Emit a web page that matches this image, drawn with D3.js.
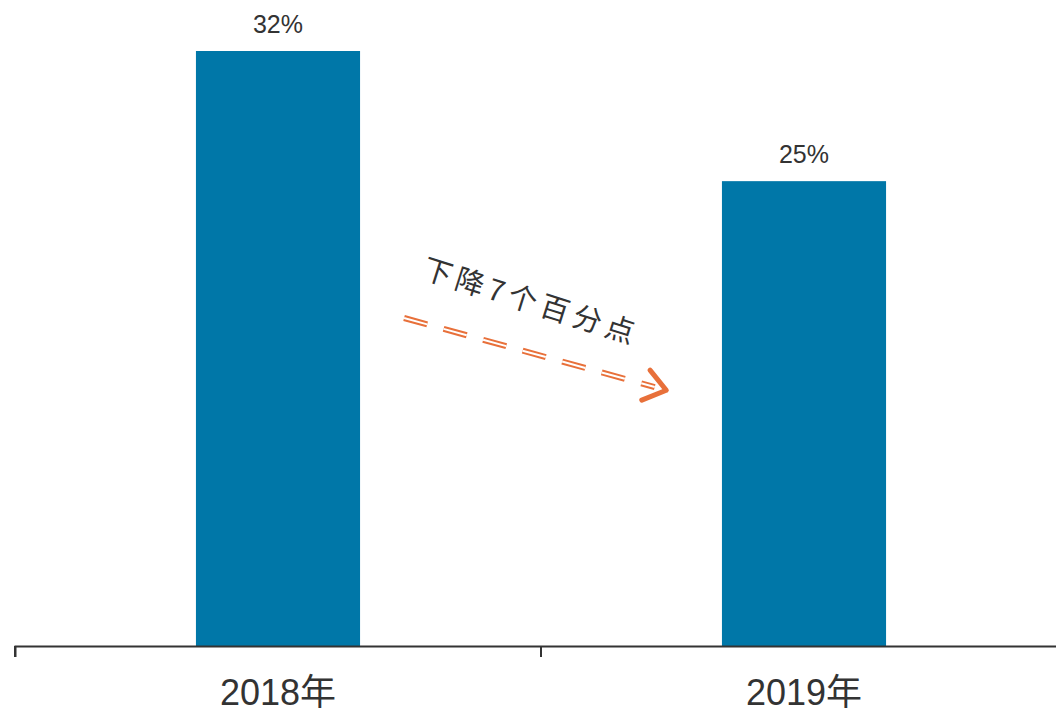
<!DOCTYPE html>
<html>
<head>
<meta charset="utf-8">
<script src="https://cdn.jsdelivr.net/npm/d3@7"></script>
<style>
  body { margin: 0; background: #fff; }
  svg { display: block; }
</style>
</head>
<body>
<div id="chart"></div>
<script>
const years = ["2018年", "2019年"];
const values = [32, 25];
const note = `下降${values[0] - values[1]}个百分点`;

const width = 1056;
const height = 715;
const baseY = 646;

const x = d3.scaleBand()
    .domain(years)
    .range([15, 1067])
    .paddingInner(0.688)
    .paddingOuter(0.344);

const y = d3.scaleLinear()
    .domain([0, 32])
    .range([baseY, 51]);

const svg = d3.select("#chart")
    .append("svg")
    .attr("width", width)
    .attr("height", height);

// bars
svg.selectAll("rect.bar")
    .data(values)
    .enter()
    .append("rect")
    .classed("bar", true)
    .attr("x", (d, i) => x(years[i]))
    .attr("y", d => y(d))
    .attr("width", x.bandwidth())
    .attr("height", d => baseY - y(d))
    .attr("fill", "#0077a8");

// value labels
svg.selectAll("text.val")
    .data(values)
    .enter()
    .append("text")
    .classed("val", true)
    .attr("x", (d, i) => x(years[i]) + x.bandwidth() / 2)
    .attr("y", d => y(d) - 18)
    .attr("text-anchor", "middle")
    .attr("font-family", "Liberation Sans, Arial, sans-serif")
    .attr("font-size", 25)
    .attr("fill", "#333")
    .text(d => d + "%");

// x axis
const axis = svg.append("g")
    .attr("transform", `translate(0,${baseY})`)
    .call(d3.axisBottom(x).tickSize(11).tickSizeOuter(11).tickPadding(22));

axis.select(".domain").attr("stroke", "#333").attr("stroke-width", 2);
axis.selectAll(".tick line").remove();
// ticks sit on the band edges, not the band centres
const edges = [15, 15 + x.step(), 15 + 2 * x.step()];
axis.selectAll("line.edge")
    .data(edges)
    .enter()
    .append("line")
    .classed("edge", true)
    .attr("x1", d => d).attr("x2", d => d)
    .attr("y1", 0).attr("y2", 11)
    .attr("stroke", "#333")
    .attr("stroke-width", 2);
axis.selectAll(".tick text")
    .attr("font-family", "Liberation Sans, 'Noto Sans CJK SC', sans-serif")
    .attr("font-size", 36)
    .attr("fill", "#333");

// annotation arrow
const arrow = svg.append("g")
    .attr("transform", `translate(${x(years[0]) + x.bandwidth() + 44},318) rotate(15.4)`);

arrow.append("line")
    .attr("x1", 0).attr("x2", 260).attr("y1", 0).attr("y2", 0)
    .attr("stroke", "#e8703a")
    .attr("stroke-width", 6)
    .attr("stroke-dasharray", "24 17");
arrow.append("line")
    .attr("x1", 0).attr("x2", 260).attr("y1", 0).attr("y2", 0)
    .attr("stroke", "#fff")
    .attr("stroke-width", 2)
    .attr("stroke-dasharray", "24 17");
arrow.append("path")
    .attr("d", d3.line()([[251, -15], [272, 0], [251, 16]]))
    .attr("fill", "none")
    .attr("stroke", "#e8703a")
    .attr("stroke-width", 5)
    .attr("stroke-linecap", "round")
    .attr("stroke-linejoin", "round");

svg.append("text")
    .attr("transform", `translate(${x(years[0]) + x.bandwidth() + 63},270) rotate(17.5)`)
    .attr("dominant-baseline", "middle")
    .attr("font-family", "'Noto Sans CJK SC', sans-serif")
    .attr("font-weight", 400)
    .attr("font-size", 29)
    .attr("letter-spacing", 5)
    .attr("fill", "#333")
    .text(note);
</script>
</body>
</html>
